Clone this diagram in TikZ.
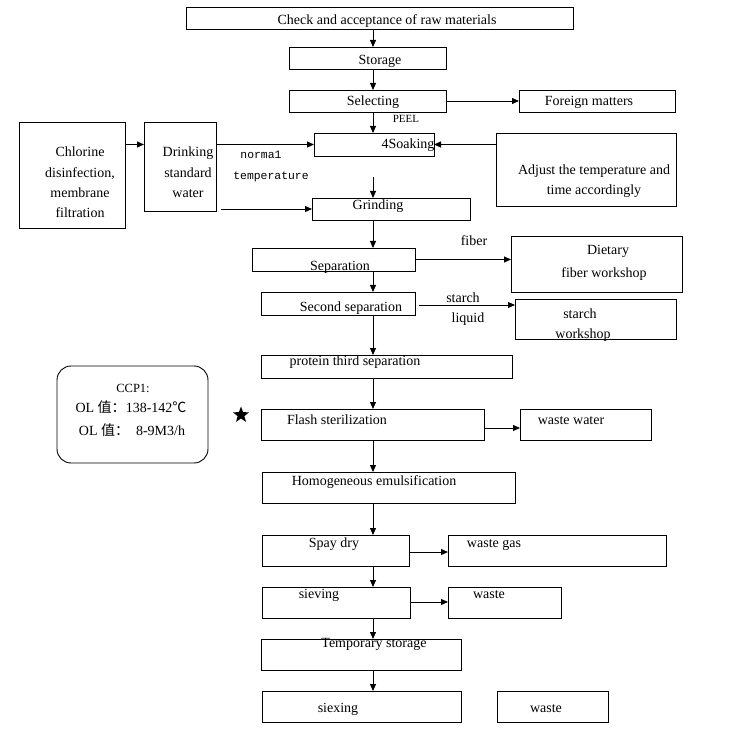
\documentclass[tikz,border=0pt]{standalone}
\usepackage{fontspec}
\setmainfont{Liberation Serif}
\setmonofont{Liberation Mono}
\newfontfamily\cjk{Noto Sans CJK SC}
\usetikzlibrary{arrows.meta,shapes.geometric}
\newcommand\mybox[5]{\node[box, minimum width={#4-#2}, minimum height={#5-#3}] (#1) at ({(#2+#4)/2},{(#3+#5)/2}) {};}
\begin{document}
\begin{tikzpicture}[x=1pt,y=-1pt,
  box/.style={draw, line width=0.9pt, inner sep=0pt, outer sep=0pt},
  txt/.style={inner sep=0pt, font=\fontsize{14}{20.3}\selectfont, anchor=mid, yshift=-3pt},
  mtxt/.style={inner sep=0pt, font=\fontsize{14}{20.3}\selectfont, anchor=center, align=center},
  mono/.style={inner sep=0pt, font=\ttfamily\fontsize{11.4}{14}\selectfont, anchor=mid, yshift=-2pt},
  arr/.style={line width=0.9pt, -{Triangle[length=7pt,width=6pt]}},
]
\useasboundingbox (0,0) rectangle (750,730);
% boxes
\mybox{check}{186}{7}{573}{29}
\mybox{storage}{289}{47}{446}{69}
\mybox{select}{289}{90}{446}{112}
\mybox{foreign}{519}{90}{675}{112}
\mybox{soak}{314}{133}{434}{156}
\mybox{adjust}{496}{133}{676}{206}
\mybox{chlor}{19}{122}{125}{228}
\mybox{drink}{144}{122}{216}{211}
\mybox{grind}{312}{198}{470}{220}
\mybox{sep}{252}{248}{415}{271}
\mybox{diet}{511}{236}{682}{292}
\mybox{second}{261}{292}{415}{315}
\mybox{starchw}{515}{299}{676}{339}
\mybox{protein}{261}{355}{512}{378}
\node[box, rounded corners=14pt, minimum width=151, minimum height=97] (ccp) at (132.5,414.5) {};
\mybox{flash}{261}{409}{484}{440}
\mybox{wwater}{520}{409}{651}{440}
\mybox{homog}{262}{472}{515}{503}
\mybox{spay}{262}{535}{409}{566}
\mybox{wgas}{448}{535}{666}{566}
\mybox{sieve}{262}{587}{410}{618}
\mybox{waste}{448}{587}{561}{618}
\mybox{temp}{261}{639}{461}{670}
\mybox{siex}{262}{691}{461}{722}
\mybox{wasteb}{497}{691}{608}{722}
\node[star, star points=5, star point ratio=2.4, fill, minimum size=17pt, inner sep=0pt] (star) at (241,415) {};
% texts
\node[txt] (tcheck) at (387,19) {Check and acceptance of raw materials};
\node[txt] (tstorage) at (380,59) {Storage};
\node[txt] (tselect) at (373,100) {Selecting};
\node[txt] (tforeign) at (589,100) {Foreign matters};
\node[txt, font=\fontsize{11}{13}\selectfont] (tpeel) at (406,117) {PEEL};
\node[txt] (tsoak) at (408,143) {4Soaking};
\node[mono] (tnorm) at (261,154) {norma1};
\node[mono] (ttemp) at (271,175) {temperature};
\node[mtxt] (tchlor) at (80,182.5) {Chlorine\\disinfection,\\membrane\\filtration};
\node[mtxt] (tdrink) at (188,172.5) {Drinking\\standard\\water};
\node[mtxt] (tadjust) at (594,181) {Adjust the temperature and\\time accordingly};
\node[txt] (tgrind) at (378,204) {Grinding};
\node[txt] (tfiber) at (474,240) {fiber};
\node[txt] (tsep) at (340,265) {Separation};
\node[txt] (tdiet) at (608,249) {Dietary};
\node[txt] (tdiet2) at (604,272) {fiber workshop};
\node[txt] (tsecond) at (351,306) {Second separation};
\node[txt] (tstarch) at (463,297) {starch};
\node[txt] (tliquid) at (468,317) {liquid};
\node[txt] (tsw1) at (580,313) {starch};
\node[txt] (tsw2) at (583,333) {workshop};
\node[txt] (tprot) at (355,360) {protein third separation};
\node[txt, font=\fontsize{12.5}{14}\selectfont] (tccp1) at (133,387) {CCP1:};
\node[txt, font=\fontsize{14}{16}\selectfont] (tccp2) at (131,407) {OL {\cjk 值：}138-142{\cjk ℃}};
\node[txt, font=\fontsize{14}{16}\selectfont] (tccp3) at (132,430) {OL {\cjk 值：}\ \ 8-9M3/h};
\node[txt] (tflash) at (337,419) {Flash sterilization};
\node[txt] (twwater) at (571,419) {waste water};
\node[txt] (thomog) at (374,480) {Homogeneous emulsification};
\node[txt] (tspay) at (334,542) {Spay dry};
\node[txt] (twgas) at (494,542) {waste gas};
\node[txt] (tsieve) at (319,593) {sieving};
\node[txt] (twaste) at (489,593) {waste};
\node[txt] (ttemps) at (374,642) {Temporary storage};
\node[txt] (tsiex) at (338,707) {siexing};
\node[txt] (twasteb) at (546,707) {waste};
% connectors
\coordinate (mx) at (373,0);
\draw[arr] (check.south -| mx) -- (storage.north -| mx);
\draw[arr] (storage.south -| mx) -- (select.north -| mx);
\draw[arr] (select.east) -- (foreign.west);
\draw[arr] (select.south -| mx) -- (soak.north -| mx);
\draw[arr] (chlor.east |- soak.west) -- (drink.west |- soak.west);
\draw[arr] (drink.east |- soak.west) -- (soak.west);
\draw[arr] (adjust.west |- soak.east) -- (soak.east);
\coordinate (g0) at (373,177);
\draw[arr] (g0) -- (grind.north -| mx);
\coordinate (d1) at (221,209);
\draw[arr] (d1) -- (grind.west |- d1);
\draw[arr] (grind.south -| mx) -- (sep.north -| mx);
\draw[arr] (sep.east) -- (diet.west |- sep.east);
\draw[arr] (sep.south -| mx) -- (second.north -| mx);
\coordinate (s1) at (419,305);
\draw[arr] (s1) -- (starchw.west |- s1);
\draw[arr] (second.south -| mx) -- (protein.north -| mx);
\draw[arr] (protein.south -| mx) -- (flash.north -| mx);
\draw[arr] (flash.east |- 0,428) -- (wwater.west |- 0,428);
\draw[arr] (flash.south -| mx) -- (homog.north -| mx);
\draw[arr] (homog.south -| mx) -- (spay.north -| mx);
\draw[arr] (spay.east |- 0,552) -- (wgas.west |- 0,552);
\draw[arr] (spay.south -| mx) -- (sieve.north -| mx);
\draw[arr] (sieve.east |- 0,602) -- (waste.west |- 0,602);
\draw[arr] (sieve.south -| mx) -- (temp.north -| mx);
\draw[arr] (temp.south -| mx) -- (siex.north -| mx);
\end{tikzpicture}
\end{document}
